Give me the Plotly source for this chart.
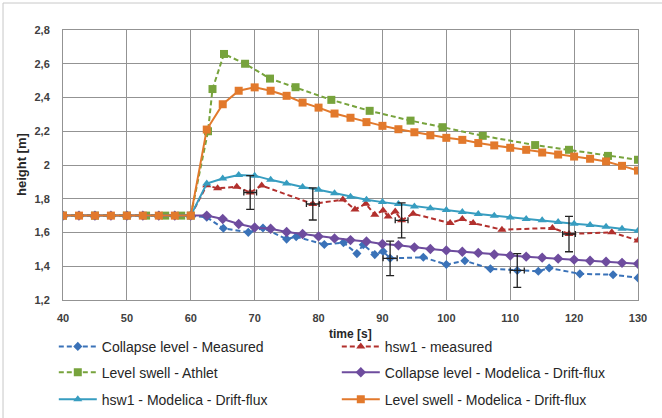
import plotly.graph_objects as go

# ---------------- data ----------------
t_model = [40, 42.5, 45, 47.5, 50, 52.5, 55, 57.5, 60, 62.5, 65, 67.5, 70, 72.5, 75, 77.5,
           80, 82.5, 85, 87.5, 90, 92.5, 95, 97.5, 100, 102.5, 105, 107.5, 110, 112.5,
           115, 117.5, 120, 122.5, 125, 127.5, 130]

swell_modelica = [1.70, 1.70, 1.70, 1.70, 1.70, 1.70, 1.70, 1.70, 1.70, 2.21, 2.36, 2.44, 2.46,
                  2.44, 2.41, 2.37, 2.34, 2.305, 2.28, 2.254, 2.232, 2.212, 2.194, 2.176, 2.161,
                  2.149, 2.130, 2.116, 2.102, 2.090, 2.074, 2.062, 2.050, 2.037, 2.021, 1.995, 1.967]

collapse_modelica = [1.70, 1.70, 1.70, 1.70, 1.70, 1.70, 1.70, 1.70, 1.70, 1.70, 1.68, 1.65, 1.63,
                     1.622, 1.603, 1.591, 1.577, 1.565, 1.555, 1.547, 1.532, 1.524, 1.512, 1.502,
                     1.494, 1.486, 1.479, 1.470, 1.463, 1.457, 1.451, 1.445, 1.439, 1.433, 1.427,
                     1.420, 1.415]

hsw1_modelica = [1.70, 1.70, 1.70, 1.70, 1.70, 1.70, 1.70, 1.70, 1.70, 1.89, 1.92, 1.94, 1.937,
                 1.912, 1.89, 1.87, 1.853, 1.832, 1.812, 1.794, 1.780, 1.769, 1.754, 1.743, 1.733,
                 1.721, 1.709, 1.699, 1.689, 1.680, 1.672, 1.662, 1.652, 1.644, 1.634, 1.622, 1.611]

t_athlet = [40, 45, 50, 53, 56, 58.5, 60, 62.7, 63.4, 65.2, 68.5, 72.4, 76.4, 82, 88, 94.4,
            99.4, 105.7, 113.9, 119.2, 125.3, 130]
swell_athlet = [1.70, 1.70, 1.70, 1.70, 1.70, 1.70, 1.70, 2.20, 2.45, 2.658, 2.60, 2.512, 2.461,
                2.386, 2.321, 2.263, 2.224, 2.173, 2.118, 2.090, 2.054, 2.031]

t_hsw1_meas = [40, 45, 50, 55, 60, 62.5, 64.2, 67.2, 69.3, 71.1, 79.1, 83.8, 85.7, 87.4, 88.8,
               90.1, 90.9, 92.0, 93.0, 94.8, 100.6, 102.5, 104.2, 108.7, 116.6, 119.2, 125.9, 130]
hsw1_meas = [1.70, 1.70, 1.70, 1.70, 1.70, 1.88, 1.862, 1.871, 1.837, 1.878, 1.769, 1.795, 1.737,
             1.770, 1.705, 1.731, 1.695, 1.725, 1.672, 1.711, 1.656, 1.680, 1.656, 1.617, 1.627,
             1.591, 1.601, 1.553]

t_coll_meas = [40, 45, 50, 55, 60, 62.5, 65.1, 69.0, 71.3, 75.0, 76.5, 80.9, 83.9, 86.0, 87.0,
               88.8, 90.1, 91.2, 96.4, 100.0, 102.9, 106.9, 111.1, 114.4, 116.1, 120.9, 126.1, 130]
coll_meas = [1.70, 1.70, 1.70, 1.70, 1.70, 1.69, 1.625, 1.601, 1.627, 1.561, 1.575, 1.529, 1.540,
             1.475, 1.528, 1.469, 1.488, 1.447, 1.453, 1.410, 1.433, 1.385, 1.375, 1.370, 1.390,
             1.355, 1.350, 1.331]

# measurement uncertainty bars
t_err_hsw1 = [69.3, 79.1, 93.0, 119.2]
v_err_hsw1 = [1.837, 1.769, 1.672, 1.591]
t_err_coll = [91.2, 111.1]
v_err_coll = [1.447, 1.375]
dy_err_hsw1 = [0.10, 0.095, 0.104, 0.105]
dy_err_coll = [0.102, 0.10]
dt_err_hsw1 = [1.0, 1.0, 1.0, 1.0]
dt_err_coll = [1.1, 1.1]

x_ticks = [40, 50, 60, 70, 80, 90, 100, 110, 120, 130]
y_ticks = [1.2, 1.4, 1.6, 1.8, 2.0, 2.2, 2.4, 2.6, 2.8]

# ---------------- styling ----------------
C_BLUE = "#3A72B8"
C_RED = "#B2302D"
C_GREEN = "#77A33C"
C_PURPLE = "#6E4C9E"
C_AQUA = "#379DC0"
C_ORANGE = "#E2792C"
DASH = "5px,3px"
FONT = "Liberation Sans"

fig = go.Figure()


def add(x, y, name, color, symbol, dash, legend, size=8):
    fig.add_trace(go.Scatter(
        x=x, y=y, name=name, mode="lines+markers",
        line=dict(color=color, width=2, dash=dash),
        marker=dict(color=color, symbol=symbol, size=size),
        legend=legend,
    ))


# one legend per row, two entries per row
add(t_coll_meas, coll_meas, "Collapse level - Measured", C_BLUE, "diamond", DASH, "legend", 7)
add(t_hsw1_meas, hsw1_meas, "hsw1 - measured", C_RED, "triangle-up", DASH, "legend", 8)
add(t_athlet, swell_athlet, "Level swell - Athlet", C_GREEN, "square", DASH, "legend2", 8)
add(t_model, collapse_modelica, "Collapse level - Modelica - Drift-flux", C_PURPLE, "diamond", "solid", "legend2", 8)
add(t_model, hsw1_modelica, "hsw1 - Modelica - Drift-flux", C_AQUA, "triangle-up", "solid", "legend3", 8)
add(t_model, swell_modelica, "Level swell - Modelica - Drift-flux", C_ORANGE, "square", "solid", "legend3", 8)

for tx, vy, dy, dx in [(t_err_hsw1, v_err_hsw1, dy_err_hsw1, dt_err_hsw1),
                       (t_err_coll, v_err_coll, dy_err_coll, dt_err_coll)]:
    fig.add_trace(go.Scatter(
        x=tx, y=vy, mode="markers", marker=dict(size=1, opacity=0),
        error_y=dict(type="data", array=dy, color="#222222", thickness=1.3, width=4),
        error_x=dict(type="data", array=dx, color="#222222", thickness=1.3, width=3),
        showlegend=False, hoverinfo="skip",
    ))

axis_common = dict(
    showgrid=True, gridcolor="#939393", gridwidth=1,
    showline=True, linecolor="#939393", linewidth=1, mirror=True,
    zeroline=False, ticks="",
    tickfont=dict(family=FONT, size=11, color="#404040", weight="bold"),
)

fig.update_xaxes(range=[40, 130], tickvals=x_ticks, ticklabelstandoff=8, **axis_common)
fig.update_yaxes(range=[1.2, 2.8], tickvals=y_ticks, ticklabelstandoff=10, **axis_common)

leg_common = dict(
    orientation="h", xanchor="left", yanchor="top", x=-0.016,
    font=dict(family=FONT, size=14, color="#262626"),
    bgcolor="rgba(0,0,0,0)", borderwidth=0,
    itemwidth=38, itemsizing="trace",
    entrywidth=230, entrywidthmode="pixels",
    traceorder="normal",
)

fig.update_layout(
    width=662, height=418, autosize=False,
    margin=dict(l=63, r=24, t=30, b=118, autoexpand=False),
    paper_bgcolor="white", plot_bgcolor="white",
    separators=",.",
    legend=dict(y=-0.114, **leg_common),
    legend2=dict(y=-0.210, **leg_common),
    legend3=dict(y=-0.310, **leg_common),
    annotations=[
        dict(text="time [s]", xref="paper", yref="paper", x=0.5, y=-0.125,
             xanchor="center", yanchor="middle", showarrow=False,
             font=dict(family=FONT, size=12, color="#262626", weight="bold")),
        dict(text="height [m]", xref="paper", yref="paper", x=-0.073, y=0.5,
             xanchor="center", yanchor="middle", showarrow=False, textangle=-90,
             font=dict(family=FONT, size=13, color="#262626", weight="bold")),
    ],
    shapes=[
        dict(type="line", xref="paper", yref="paper", x0=-0.1043, x1=1.05, y0=1.1, y1=1.1,
             line=dict(color="#c8c8c8", width=1)),
        dict(type="line", xref="paper", yref="paper", x0=-0.1043, x1=-0.1043, y0=1.1, y1=-0.45,
             line=dict(color="#c8c8c8", width=1)),
    ],
)

fig.write_html("out.html")
